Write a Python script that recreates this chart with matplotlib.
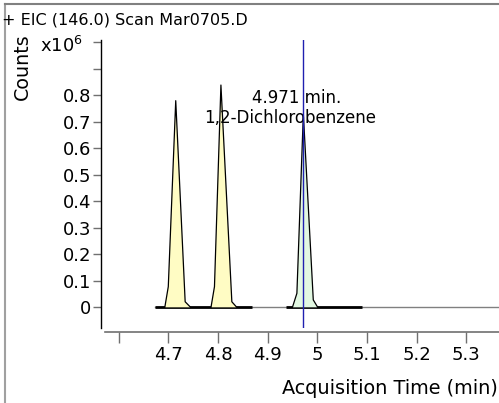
import matplotlib
matplotlib.use("Agg")
import matplotlib.pyplot as plt
from matplotlib.lines import Line2D

plt.rcParams['font.family'] = ['DejaVu Sans']

# Peak outlines (time in min, counts in x10^6)
peak1_t = [4.693, 4.700, 4.715, 4.734, 4.745]
peak1_y = [0.0, 0.078, 0.780, 0.021, 0.0]
peak2_t = [4.786, 4.793, 4.806, 4.828, 4.838]
peak2_y = [0.0, 0.078, 0.839, 0.021, 0.0]
peak3_t = [4.950, 4.959, 4.972, 4.992, 5.001]
peak3_y = [0.0, 0.053, 0.730, 0.028, 0.0]
baseline_t = [4.673, 5.366]
baseline_y = [0.0, 0.0]
thick_segments = [(4.673, 4.868), (4.938, 5.090)]
marker_time = 4.971

xticks = [4.6, 4.7, 4.8, 4.9, 5.0, 5.1, 5.2, 5.3]
xtick_labels = ['', '4.7', '4.8', '4.9', '5', '5.1', '5.2', '5.3']
yticks = [0, 0.1, 0.2, 0.3, 0.4, 0.5, 0.6, 0.7, 0.8, 0.9, 1.0]
ytick_labels = ['0', '0.1', '0.2', '0.3', '0.4', '0.5', '0.6', '0.7', '0.8', '', '']

W, H = 499, 403
fig = plt.figure(figsize=(W / 100, H / 100), dpi=100)

# outer frame lines
fig.add_artist(Line2D([5 / W, 5 / W], [0, 1 - 4 / H], color='#a0a0a0', lw=1.5, transform=fig.transFigure))
fig.add_artist(Line2D([5 / W, 1], [1 - 4 / H, 1 - 4 / H], color='#808080', lw=1.5, transform=fig.transFigure))

left, right = 101 / W, 1.0
bottom, top = 1 - 328 / H, 1 - 40 / H
ax = fig.add_axes([left, bottom, right - left, top - bottom])
xmin, xmax = 4.5645, 5.366
ax.set_xlim(xmin, xmax)
ax.set_ylim(-0.078, 1.009)

for s in ['top', 'right']:
    ax.spines[s].set_visible(False)
ax.spines['left'].set_color('black')
ax.spines['left'].set_linewidth(1.0)
ax.spines['bottom'].set_position(('outward', 3))
ax.spines['bottom'].set_bounds(xmin + 4 / 496.7, xmax)
ax.spines['bottom'].set_color('#707070')
ax.spines['bottom'].set_linewidth(1.2)

ax.set_xticks(xticks)
ax.set_xticklabels(xtick_labels)
ax.set_yticks(yticks)
ax.set_yticklabels(ytick_labels)
ax.tick_params(axis='x', length=8, width=1, color='#707070', labelsize=13, pad=2)
ax.tick_params(axis='y', length=6, width=1, color='#707070', labelsize=13, pad=1)

# baseline and thick segments
ax.plot(baseline_t, baseline_y, color='#808080', lw=1.0, zorder=2)
for a, b in thick_segments:
    ax.plot([a, b], [0, 0], color='black', lw=2.0, zorder=2, solid_capstyle='butt')

# peaks
for t, y, fc in [(peak1_t, peak1_y, '#fffcc4'), (peak2_t, peak2_y, '#fffcc4'), (peak3_t, peak3_y, '#e2f8e2')]:
    ax.fill(t, y, facecolor=fc, edgecolor='none', zorder=3)
    ax.plot(t, y, color='black', lw=0.9, zorder=4)

ax.axvline(marker_time, color='#2020b0', lw=1.0, zorder=6)

ax.text(4.958, 0.79, '4.971 min.', ha='center', va='center', fontsize=12, zorder=5)
ax.text(4.946, 0.713, '1,2-Dichlorobenzene', ha='center', va='center', fontsize=12, zorder=5)

fig.text(2 / W, 1 - 20 / H, '+ EIC (146.0) Scan Mar0705.D', ha='left', va='center', fontsize=11.5)
fig.text(22 / W, 1 - 67 / H, 'Counts', rotation=90, ha='center', va='center', fontsize=13.7)
fig.text(61 / W, 1 - 46 / H, r'x10$^6$', ha='center', va='center', fontsize=13)
fig.text(1 - 1 / W, 1 - 389 / H, 'Acquisition Time (min)', ha='right', va='center', fontsize=13.9)

fig.savefig('out.png', dpi=100)
